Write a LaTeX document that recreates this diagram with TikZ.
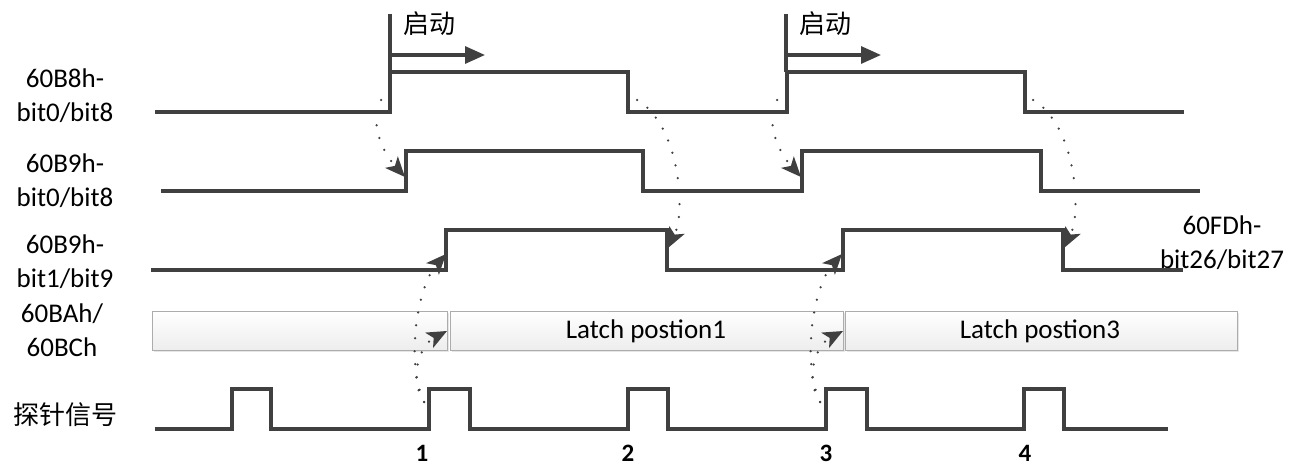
\documentclass[tikz,border=0pt]{standalone}
\usepackage{fontspec}
\setmainfont{Carlito}
\newfontfamily\cjk{Noto Sans CJK SC}
\usetikzlibrary{arrows.meta}
\usetikzlibrary{shadows}
\usetikzlibrary{positioning}
\definecolor{wavegray}{RGB}{64,64,64}

\begin{document}
\begin{tikzpicture}[x=1pt,y=-1pt,
		wave/.style={draw=wavegray,line width=3.2pt},
		sig/.style={font=\fontsize{27}{34}\selectfont,align=center,inner sep=0pt},
		han/.style={font=\cjk\fontsize{26}{30}\selectfont,inner sep=0pt},
		num/.style={font=\fontsize{25}{30}\selectfont\bfseries,inner sep=0pt},
		latchbox/.style={draw=gray!65,line width=1pt,top color=white,bottom color=gray!14,drop shadow={opacity=0.2,shadow xshift=2pt,shadow yshift=-2pt}},
		startarr/.style={draw=wavegray,line width=3.2pt,-{Triangle[length=20pt,width=17pt]}},
		trig/.style={draw=wavegray,line width=2.5pt,line cap=round,dash pattern=on 0pt off 13pt,-{Stealth[length=20pt,width=17pt,inset=5pt]}}]
			\useasboundingbox (0,0) rectangle (1304,468);
			\node[sig] (r1) at (65,96) {60B8h-\\bit0/bit8};
			\node[sig] (r2) at (65,181) {60B9h-\\bit0/bit8};
			\node[sig] (r3) at (65,262) {60B9h-\\bit1/bit9};
			\node[sig] (r4) at (62,330) {60BAh/\\60BCh};
			\node[han] (r5) at (65,415) {探针信号};
			\node[sig] (fd) at (1222,243) {60FDh-\\bit26/bit27};
			\path[latchbox] (152,311) rectangle (447,350);
			\path[latchbox] (450,311) rectangle (843,350);
			\path[latchbox] (845,311) rectangle (1237,350);
			\node[sig] (lp1) at (646,331) {Latch postion1};
			\node[sig] (lp3) at (1040,331) {Latch postion3};
			\draw[wave] (155,112) -- (390,112) -- (390,72) -- (628,72) -- (628,112) -- (787,112) -- (787,72) -- (1025,72) -- (1025,112) -- (1184,112);
			\draw[wave] (161,191) -- (406,191) -- (406,151) -- (643,151) -- (643,191) -- (802,191) -- (802,151) -- (1041,151) -- (1041,191) -- (1200,191);
			\draw[wave] (151,270) -- (446,270) -- (446,230) -- (667,230) -- (667,270) -- (843,270) -- (843,230) -- (1063,230) -- (1063,270) -- (1183,270);
			\draw[wave] (155,429) -- (232,429) -- (232,389) -- (271,389) -- (271,429) -- (429,429) -- (429,389) -- (470,389) -- (470,429) -- (628,429) -- (628,389) -- (668,389) -- (668,429) -- (826,429) -- (826,389) -- (867,389) -- (867,429) -- (1024,429) -- (1024,389) -- (1064,389) -- (1064,429) -- (1168,429);
			\node[num] (n1) at (422,453) {1};
			\node[num] (n2) at (628,453) {2};
			\node[num] (n3) at (826,453) {3};
			\node[num] (n4) at (1025,453) {4};
			\foreach \s/\k in {0/1,396/2}
			{
				\draw[wave] (390+\s,14) -- (390+\s,72);
				\coordinate (go\k) at (390+\s,55);
				\coordinate (goend\k) at (485+\s,55);
				\draw[startarr] (go\k) -- (goend\k);
				\node[han] (qd\k) at (429+\s,24) {启动};
				\coordinate (a\k) at (381+\s,100);
				\coordinate (b\k) at (405+\s,177);
				\coordinate (c\k) at (637+\s,100);
				\coordinate (d\k) at (668+\s,248);
				\coordinate (p\k) at (424+\s,402);
				\coordinate (e\k) at (446+\s,254);
				\coordinate (f\k) at (447+\s,331);
				\draw[trig] (a\k) .. controls (368+\s,125) and (385+\s,155) .. (b\k);
				\draw[trig] (c\k) .. controls (680+\s,125) and (686+\s,212) .. (d\k);
				\draw[trig] (p\k) .. controls (405+\s,360) and (418+\s,285) .. (e\k);
				\draw[trig] (p\k) .. controls (408+\s,378) and (420+\s,345) .. (f\k);
			}
			\end{tikzpicture}
\end{document}
